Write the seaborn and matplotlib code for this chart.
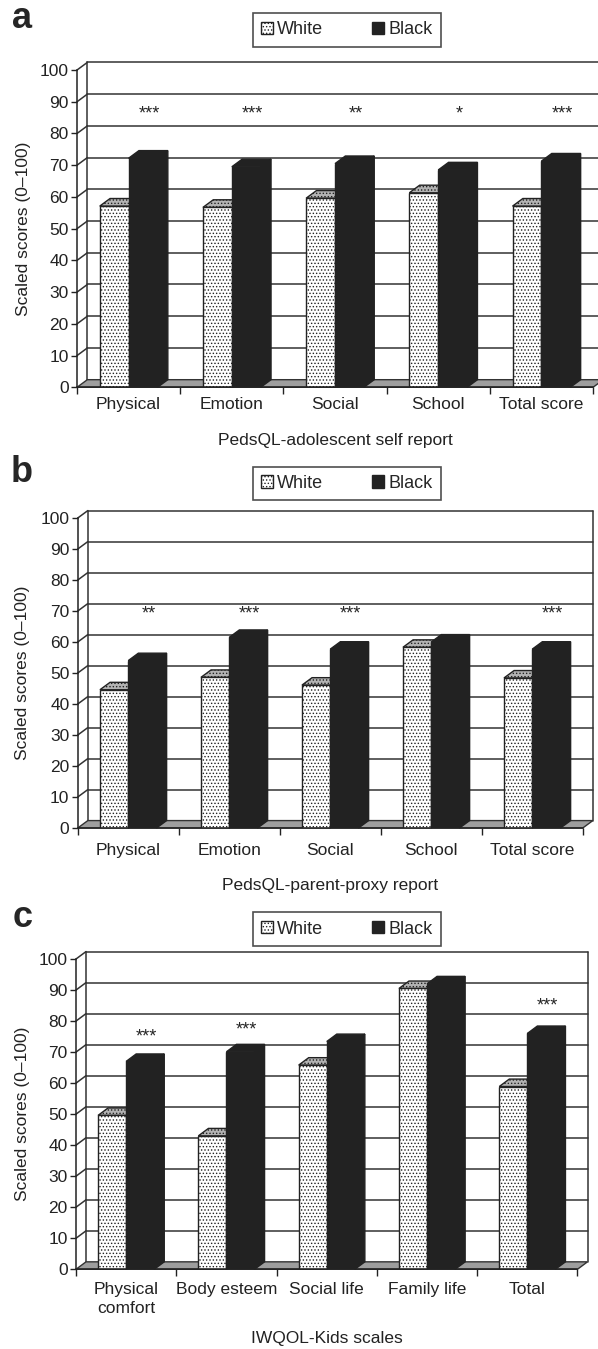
import numpy as np
import pandas as pd
import seaborn as sns
import matplotlib.pyplot as plt
from matplotlib.patches import Polygon, Patch

groups = ["White", "Black"]

# panel a - PedsQL adolescent self report
scales_a = ["Physical", "Emotion", "Social", "School", "Total score"]
white_a = [57.1, 56.7, 59.6, 61.3, 57.1]
black_a = [72.2, 69.5, 70.5, 68.5, 71.3]
stars_a = ["***", "***", "**", "*", "***"]
star_y_a = [86, 86, 86, 86, 86]

# panel b - PedsQL parent proxy report
scales_b = ["Physical", "Emotion", "Social", "School", "Total score"]
white_b = [44.6, 48.6, 46.1, 58.3, 48.4]
black_b = [54.0, 61.5, 57.7, 60.0, 57.7]
stars_b = ["**", "***", "***", "", "***"]
star_y_b = [69, 69, 69, 69, 69]

# panel c - IWQOL-Kids
scales_c = ["Physical\ncomfort", "Body esteem", "Social life", "Family life", "Total"]
white_c = [49.6, 43.0, 65.8, 90.5, 58.9]
black_c = [67.0, 70.1, 73.4, 92.0, 76.0]
stars_c = ["***", "***", "", "", "***"]
star_y_c = [75, 77, 0, 0, 85]

DX = 0.1   # fake 3d depth, category units
DY = 2.4   # fake 3d depth, score units
DARK = "#222222"
HATCH = "....."

sns.set_style("white")
plt.rcParams['font.family'] = ['Liberation Sans', 'DejaVu Sans']
plt.rcParams['hatch.linewidth'] = 0.6


def make_df(scales, white, black):
    rows = []
    for s, w, b in zip(scales, white, black):
        rows.append({"scale": s, "group": "White", "score": w})
        rows.append({"scale": s, "group": "Black", "score": b})
    return pd.DataFrame(rows)


def draw_walls(ax, n):
    x0, x1 = -0.5, n - 0.5
    kw = dict(color="#333333", lw=1.1, zorder=1, clip_on=False)
    for v in range(10, 101, 10):
        ax.plot([x0 + DX, x1 + DX], [v + DY, v + DY], **kw)
        ax.plot([x0, x0 + DX], [v, v + DY], **kw)
    ax.plot([x0 + DX, x0 + DX], [DY, 100 + DY], **kw)
    ax.plot([x1 + DX, x1 + DX], [DY, 100 + DY], **kw)
    floor = Polygon([(x0, 0), (x1, 0), (x1 + DX, DY), (x0 + DX, DY)], closed=True,
                    facecolor="#9e9e9e", edgecolor="#333333", lw=1, zorder=2, clip_on=False)
    ax.add_patch(floor)


def add_depth(ax):
    # top and side faces for every bar seaborn drew
    for k, cont in enumerate(ax.containers):
        base = 3 + 0.2 * k
        for bar in cont:
            x, w, h = bar.get_x(), bar.get_width(), bar.get_height()
            if k == 0:
                bar.set_hatch(HATCH)
                top_fc, side_fc, hatch = "#b3b3b3", "#d8d8d8", HATCH
            else:
                top_fc, side_fc, hatch = DARK, DARK, None
            top = Polygon([(x, h), (x + w, h), (x + w + DX, h + DY), (x + DX, h + DY)],
                          closed=True, facecolor=top_fc, edgecolor=DARK, lw=1,
                          hatch=hatch, zorder=base, clip_on=False)
            side = Polygon([(x + w, 0), (x + w + DX, DY), (x + w + DX, h + DY), (x + w, h)],
                           closed=True, facecolor=side_fc, edgecolor=DARK, lw=1,
                           hatch=hatch, zorder=base, clip_on=False)
            ax.add_patch(side)
            ax.add_patch(top)
            bar.set_zorder(base + 0.1)


def draw_panel(fig, rect, scales, white, black, stars, star_y, xlabel,
               tick_pad, xlabel_y, ylabel_x):
    ax = fig.add_axes(rect)
    n = len(scales)
    df = make_df(scales, white, black)
    sns.barplot(data=df, x="scale", y="score", hue="group", hue_order=groups,
                palette={"White": "white", "Black": DARK}, width=0.56,
                edgecolor=DARK, linewidth=1, legend=False, ax=ax)
    draw_walls(ax, n)
    add_depth(ax)

    for i, (s, y) in enumerate(zip(stars, star_y)):
        if s:
            ax.text(i + 0.2, y, s, ha="center", va="center", fontsize=13, zorder=6)

    ax.set_xlim(-0.5, n - 0.5)
    ax.set_ylim(0, 100)
    ax.set_yticks(range(0, 101, 10))
    ax.set_xticks(np.arange(-0.5, n, 1.0), minor=True)
    ax.tick_params(axis="y", left=True, length=4, width=1, pad=2, labelsize=12.5,
                   colors="#222222")
    ax.tick_params(axis="x", which="major", length=0, pad=tick_pad, labelsize=12.5,
                   colors="#222222")
    ax.tick_params(axis="x", which="minor", bottom=True, length=5, width=1, color="#222222")
    for lab in ax.get_xticklabels():
        lab.set_linespacing(1.35)
    for sp in ["top", "right"]:
        ax.spines[sp].set_visible(False)
    for sp in ["left", "bottom"]:
        ax.spines[sp].set_color("#222222")
        ax.spines[sp].set_linewidth(1.1)
        ax.spines[sp].set_zorder(5)
    ax.set_xlabel(xlabel, fontsize=12.5, color="#222222")
    ax.xaxis.set_label_coords(0.5, xlabel_y)
    ax.set_ylabel("Scaled scores (0\u2013100)", fontsize=12.5, color="#222222")
    ax.yaxis.set_label_coords(ylabel_x, 0.5)
    return ax


def add_legend(fig, y):
    handles = [Patch(facecolor="white", edgecolor=DARK, hatch=HATCH, label="White"),
               Patch(facecolor=DARK, edgecolor=DARK, label="Black")]
    leg = fig.legend(handles=handles, loc="center", bbox_to_anchor=(0.58, y), ncol=2,
                     fontsize=13, frameon=True, fancybox=False, handlelength=0.65,
                     handleheight=0.65, handletextpad=0.25, columnspacing=2.7,
                     borderpad=0.45)
    leg.get_frame().set_edgecolor(DARK)
    leg.get_frame().set_linewidth(1.2)


fig = plt.figure(figsize=(5.98, 13.49), dpi=100)

draw_panel(fig, [0.1288, 0.7129, 0.8629, 0.2352], scales_a, white_a, black_a,
           stars_a, star_y_a, "PedsQL-adolescent self report", 7, -0.145, -0.09)
draw_panel(fig, [0.1300, 0.3862, 0.8445, 0.2298], scales_b, white_b, black_b,
           stars_b, star_y_b, "PedsQL-parent-proxy report", 11, -0.16, -0.094)
draw_panel(fig, [0.1271, 0.0591, 0.8386, 0.2300], scales_c, white_c, black_c,
           stars_c, star_y_c, "IWQOL-Kids scales", 9, -0.20, -0.092)

add_legend(fig, 0.9778)
add_legend(fig, 0.6417)
add_legend(fig, 0.3113)

for letter, y in zip(["a", "b", "c"], [0.986, 0.650, 0.320]):
    fig.text(0.037, y, letter, fontsize=26, fontweight="bold", ha="center", va="center")

fig.savefig("out.png", dpi=100)
